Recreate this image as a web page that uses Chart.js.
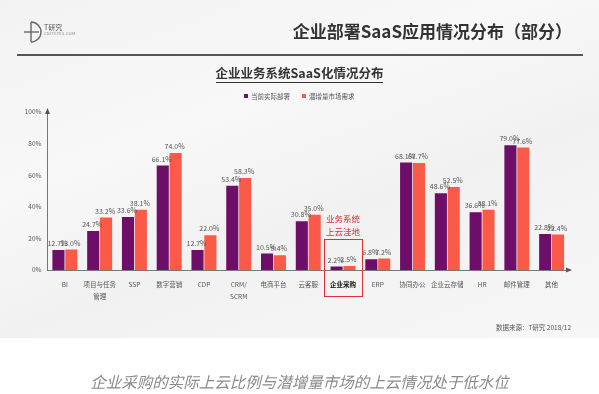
<!DOCTYPE html>
<html><head><meta charset="utf-8">
<script src="https://cdn.jsdelivr.net/npm/chart.js@4"></script>
<style>
html,body{margin:0;padding:0;width:599px;height:394px;overflow:hidden;background:#fff;font-family:"Noto Sans CJK SC","Noto Sans",sans-serif;}
#bg{position:absolute;left:0;top:0;width:599px;height:338px;background:linear-gradient(160deg,#f2f2f2 0%,#f8f8f8 35%,#f1f1f1 60%,#f7f7f7 100%);}
#wrap{position:absolute;left:0;top:0;width:599px;height:394px;}
.t{position:absolute;white-space:nowrap;}
</style></head>
<body>
<div id="bg"></div>
<div id="wrap"><canvas id="c" width="599" height="394"></canvas></div>
<svg class="t" style="left:22px;top:20px" width="22" height="24" viewBox="0 0 22 24">
<path d="M9 2 A10 10 0 0 1 9 22" fill="none" stroke="#666" stroke-width="1.4"/>
<line x1="9" y1="2" x2="9" y2="22" stroke="#666" stroke-width="1.4"/>
<line x1="2" y1="12" x2="17" y2="12" stroke="#666" stroke-width="1.4"/>
</svg>
<div class="t" style="left:44px;top:23px;font-size:7px;color:#555;line-height:8px;">T研究</div>
<div class="t" style="left:44px;top:31px;font-size:4px;color:#888;line-height:5px;letter-spacing:0.3px">CNITEYES.COM</div>
<div class="t" style="right:27px;top:19px;font-size:17px;font-weight:bold;color:#333;line-height:24px;">企业部署SaaS应用情况分布（部分）</div>
<div style="position:absolute;left:17px;top:54px;width:566px;height:2px;background:#555;"></div>
<div class="t" style="left:0;width:599px;text-align:center;top:64px;font-size:12.5px;font-weight:bold;color:#333;line-height:18px;"><span style="border-bottom:1px solid #333;">企业业务系统SaaS化情况分布</span></div>
<div class="t" style="left:244px;top:92px;font-size:6.5px;color:#555;line-height:9px;"><span style="display:inline-block;width:4px;height:4px;background:#6e0e68;margin-right:3px;vertical-align:1px"></span>当前实际部署<span style="display:inline-block;width:4px;height:4px;background:#fb5a48;margin:0 3px 0 12px;vertical-align:1px"></span>潜增量市场需求</div>
<div class="t" style="left:319px;top:212px;font-size:8.5px;color:#e02c35;line-height:13px;text-align:center;width:48px;">业务系统<br>上云洼地</div>
<div style="position:absolute;left:324px;top:239px;width:37px;height:56px;border:1px solid #e0303a;"></div>
<div class="t" style="right:28px;top:322px;font-size:6.5px;color:#555;line-height:10px;">数据来源：T研究 2018/12</div>
<div class="t" style="left:0;width:599px;text-align:center;top:370px;font-size:15.5px;font-style:italic;color:#8a8a8a;line-height:22px;">企业采购的实际上云比例与潜增量市场的上云情况处于低水位</div>
<script>
const categories = [["BI"],["项目与任务","管理"],["SSP"],["数字营销"],["CDP"],["CRM/","SCRM"],["电商平台"],["云客服"],["企业采购"],["ERP"],["协同办公"],["企业云存储"],["HR"],["邮件管理"],["其他"]];
const currentDeploy = [12.7,24.7,33.6,66.1,12.7,53.4,10.5,30.8,2.2,6.8,68.1,48.6,36.6,79.0,22.8];
const potentialDemand = [13.0,33.2,38.1,74.0,22.0,58.3,9.4,35.0,2.5,7.2,67.7,52.5,38.1,77.6,22.4];
const seriesNames = ["当前实际部署","潜增量市场需求"];
const yTicks = [0,20,40,60,80,100];
const highlightIndex = 8;

const labelPlugin = {
  id:'vals',
  afterDatasetsDraw(chart){
    const ctx = chart.ctx;
    ctx.save();
    ctx.font = '7px "Noto Sans CJK SC","Noto Sans",sans-serif';
    ctx.fillStyle = '#555';
    ctx.textAlign = 'center';
    ctx.textBaseline = 'bottom';
    chart.data.datasets.forEach((ds,di)=>{
      chart.getDatasetMeta(di).data.forEach((bar,i)=>{
        ctx.fillText(ds.data[i].toFixed(1)+'%', bar.x - 1, bar.y - 3);
      });
    });
    ctx.restore();
  }
};
const arrowPlugin = {
  id:'arrows',
  afterDraw(chart){
    const a = chart.chartArea, ctx = chart.ctx;
    ctx.save();
    ctx.fillStyle = '#555';
    ctx.beginPath();
    ctx.moveTo(a.left, a.top-4); ctx.lineTo(a.left-2.5, a.top+2); ctx.lineTo(a.left+2.5, a.top+2); ctx.closePath(); ctx.fill();
    ctx.beginPath();
    ctx.moveTo(a.right+3, a.bottom); ctx.lineTo(a.right-3, a.bottom-2.5); ctx.lineTo(a.right-3, a.bottom+2.5); ctx.closePath(); ctx.fill();
    ctx.restore();
  }
};

new Chart(document.getElementById('c'), {
  type:'bar',
  data:{
    labels:categories,
    datasets:[
      {label:seriesNames[0], data:currentDeploy, backgroundColor:'#6e0e68', barPercentage:0.94, categoryPercentage:0.74},
      {label:seriesNames[1], data:potentialDemand, backgroundColor:'#fb5a48', barPercentage:0.94, categoryPercentage:0.74}
    ]
  },
  options:{
    responsive:false, animation:false, devicePixelRatio:1,
    layout:{padding:{left:0,top:112,right:30,bottom:0}},
    plugins:{legend:{display:false}, tooltip:{enabled:false}},
    scales:{
      x:{
        grid:{display:false, drawTicks:false},
        border:{display:true, color:'#777', width:1},
        ticks:{
          padding:8,
          maxRotation:0, autoSkip:false,
          color:(c)=> c.index===highlightIndex ? '#111' : '#555',
          font:(c)=>({family:'"Noto Sans CJK SC","Noto Sans",sans-serif', size:6.5, weight: c.index===highlightIndex ? 'bold':'normal', lineHeight:1.9})
        },
        afterFit(s){ s.height = 124; }
      },
      y:{
        min:0, max:100,
        afterBuildTicks(s){ s.ticks = yTicks.map(v=>({value:v})); },
        grid:{display:false, drawTicks:false},
        border:{display:true, color:'#777', width:1},
        ticks:{padding:6, color:'#555', font:{family:'"Noto Sans CJK SC","Noto Sans",sans-serif', size:6.5}, callback:(v)=>v+'%'},
        afterFit(s){ s.width = 47.5; }
      }
    }
  },
  plugins:[labelPlugin, arrowPlugin]
});
</script>
</body></html>
